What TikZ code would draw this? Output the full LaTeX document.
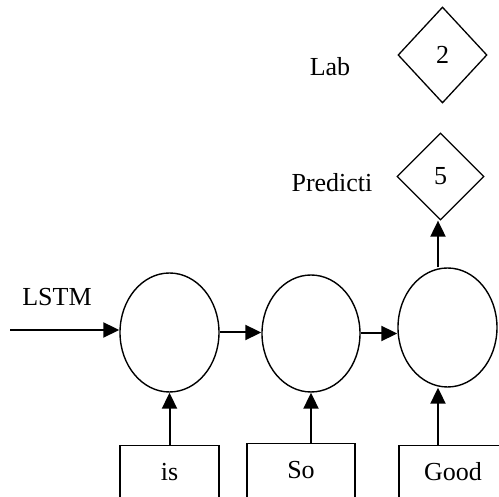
\documentclass[tikz,border=0pt]{standalone}
\usepackage{fontspec}
\setmainfont{Liberation Serif}
\usetikzlibrary{shapes.geometric,arrows.meta}
\begin{document}
\begin{tikzpicture}[x=1pt,y=1pt,
  every node/.style={font=\fontsize{26}{30}\selectfont},
  cell/.style={draw,ellipse,line width=1.4pt,inner sep=0pt},
  outdia/.style={draw,diamond,line width=1.3pt,inner sep=0pt},
  wordbox/.style={draw,rectangle,line width=1.2pt,inner sep=0pt,anchor=north,text height=35pt,text depth=30pt},
  flow/.style={line width=2pt,-{Triangle[length=16pt,width=15pt]}}]
\useasboundingbox (0,0) rectangle (499,497);
\node[cell,minimum width=99,minimum height=119] (e1) at (169.5,164.5) {};
\node[cell,minimum width=98,minimum height=117] (e2) at (311,163.5) {};
\node[cell,minimum width=99,minimum height=119] (e3) at (447.5,169.5) {};
\node[outdia,minimum width=89,minimum height=96] (d2) at (442.5,442) {2};
\node[outdia,minimum width=87,minimum height=87] (d5) at (440.5,320.5) {5};
\node (lab) at (330,430) {Lab};
\node (pred) at (332,314) {Predicti};
\node (lstm) at (57,200) {LSTM};
\node[wordbox,minimum width=99] (b1) at (169.5,52) {is};
\node[wordbox,minimum width=108] (b2) at (301,54) {So};
\node[wordbox,minimum width=108] (b3) at (453,52) {Good};
\coordinate (in) at (10,167);
\coordinate (a3) at (438,0);
\draw[flow] (in) -- (in -| e1.west);
\draw[flow] (e1.east) -- (e1.east -| e2.west);
\draw[flow] (e2.east) -- (e2.east -| e3.west);
\draw[flow] (b1.north -| e1.south) -- (e1.south);
\draw[flow] (b2.north -| e2.south) -- (e2.south);
\draw[flow] (b3.north -| a3) -- (a3 |- e3.south);
\draw[flow] (a3 |- e3.north) -- (a3 |- d5.south);
\end{tikzpicture}
\end{document}
